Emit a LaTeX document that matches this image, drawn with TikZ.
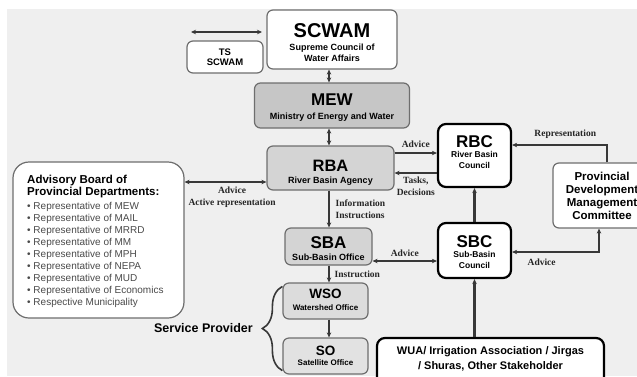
\documentclass[tikz,border=0pt]{standalone}
\usepackage{fontspec}
\setmainfont{Liberation Serif}
\setsansfont{Liberation Sans}
\usetikzlibrary{arrows.meta, positioning, decorations.pathreplacing}

\definecolor{bggray}{HTML}{EFEFEF}
\definecolor{mewgray}{HTML}{C6C6C6}
\definecolor{rbagray}{HTML}{D4D4D4}
\definecolor{wsogray}{HTML}{DCDCDC}
\definecolor{sogray}{HTML}{E2E2E2}
\definecolor{edgegray}{HTML}{6E6E6E}
\definecolor{linegray}{HTML}{383838}
\definecolor{listgray}{HTML}{4A4A4A}

\begin{document}
\begin{tikzpicture}[
  x=1pt, y=-1pt,
  >={Stealth[length=5pt, width=4.5pt]},
  unit/.style={rectangle, draw=edgegray, line width=1.2pt, rounded corners=6pt, fill=white, inner sep=0pt},
  council/.style={unit, draw=black, line width=2.2pt, rounded corners=8pt},
  ttl/.style={font=\sffamily\bfseries\fontsize{#1}{#1}\selectfont, inner sep=0pt, anchor=base},
  subttl/.style={font=\sffamily\bfseries\fontsize{#1}{10.5}\selectfont, inner sep=0pt, anchor=base, align=center},
  lbl/.style={font=\bfseries\fontsize{9.5}{12.5}\selectfont, inner sep=0pt, align=center, text=black!85},
  line/.style={draw=linegray, line width=1.2pt, ->},
  doubleline/.style={draw=linegray, line width=1.2pt, <->},
  heavy/.style={line width=2.4pt},
]
  \useasboundingbox (0,0) rectangle (637,376);
  \clip (0,0) rectangle (637,376);
  \fill[bggray] (7,9) rectangle (637,376);
  \coordinate (col) at (329,0);

  % ── Top level ─────────────────────────────
  \node[unit, minimum width=130pt, minimum height=59pt] (scwam) at (332,39.5) {};
  \node[ttl=20] (scwamT) at (332,37) {SCWAM};
  \node[subttl=9] (scwamS) at (332,61) {Supreme Council of\\Water Affairs};

  \node[unit, minimum width=76pt, minimum height=32pt, font=\sffamily\bfseries\fontsize{9.5}{10}\selectfont, align=center] (ts) at (225,57) {TS\\SCWAM};
  \coordinate (tsL) at (191,32);
  \coordinate (tsR) at (262,32);

  \node[unit, fill=mewgray, minimum width=155pt, minimum height=45pt] (mew) at (332,105.5) {};
  \node[ttl=17] (mewT) at (332,105) {MEW};
  \node[subttl=9] (mewS) at (332,119) {Ministry of Energy and Water};

  % ── River basin level ─────────────────────
  \node[unit, fill=rbagray, minimum width=127pt, minimum height=44pt] (rba) at (330.5,168) {};
  \node[ttl=16.5] (rbaT) at (330.5,171) {RBA};
  \node[subttl=9] (rbaS) at (330.5,183) {River Basin Agency};

  \node[council, minimum width=73pt, minimum height=63pt] (rbc) at (474.5,155.5) {};
  \node[ttl=17] (rbcT) at (474.5,147) {RBC};
  \node[subttl=8.5] (rbcS) at (474.5,168) {River Basin\\Council};

  \node[unit, minimum width=98pt, minimum height=65pt, font=\sffamily\bfseries\fontsize{11.5}{13}\selectfont, align=center] (pdmc) at (602,195.5) {Provincial\\Development\\Management\\Committee};

  \node[unit, rounded corners=16pt, minimum width=171pt, minimum height=156pt] (adv) at (98.5,240) {};
  \node[font=\sffamily\bfseries\fontsize{11.5}{12}\selectfont, align=left, anchor=base west, inner sep=0pt] (advT) at (27,195) {Advisory Board of\\Provincial Departments:};
  \node[font=\sffamily\fontsize{10}{12}\selectfont, text=listgray, align=left, anchor=base west, inner sep=0pt] (advL) at (27,305)
    {• Representative of MEW\\• Representative of MAIL\\• Representative of MRRD\\• Representative of MM\\• Representative of MPH\\• Representative of NEPA\\• Representative of MUD\\• Representative of Economics\\• Respective Municipality};

  % ── Sub-basin level ───────────────────────
  \node[unit, fill=rbagray, minimum width=87pt, minimum height=37pt] (sba) at (328.5,246.5) {};
  \node[ttl=17] (sbaT) at (328.5,248) {SBA};
  \node[subttl=9] (sbaS) at (328.5,260) {Sub-Basin Office};

  \node[council, minimum width=73pt, minimum height=55pt] (sbc) at (474.5,250.5) {};
  \node[ttl=17] (sbcT) at (474.5,247) {SBC};
  \node[subttl=8.5] (sbcS) at (474.5,268) {Sub-Basin\\Council};

  % ── Service providers ─────────────────────
  \node[unit, fill=wsogray, minimum width=85pt, minimum height=36pt] (wso) at (325.5,301) {};
  \node[ttl=13.5] (wsoT) at (325.5,298) {WSO};
  \node[subttl=8] (wsoS) at (325.5,310) {Watershed Office};

  \node[unit, fill=sogray, minimum width=85pt, minimum height=36pt] (so) at (325.5,356) {};
  \node[ttl=13.5] (soT) at (325.5,355) {SO};
  \node[subttl=8] (soS) at (325.5,365) {Satellite Office};

  \node[font=\sffamily\bfseries\fontsize{12.5}{12.5}\selectfont, anchor=base east, inner sep=0pt] (sp) at (253,332) {Service Provider};

  \node[council, minimum width=227pt, minimum height=48pt] (wua) at (490.5,362) {};
  \node[font=\sffamily\bfseries\fontsize{11}{15}\selectfont, align=center, anchor=base, inner sep=0pt] (wuaT) at (490.5,369) {WUA/ Irrigation Association / Jirgas\\/ Shuras, Other Stakeholder};

  % ── Connections ───────────────────────────
  \draw[doubleline] (tsL) -- (tsR);
  \draw[doubleline] (scwam.south -| col) -- (mew.north -| col);
  \draw[doubleline] (mew.south -| col) -- (rba.north -| col);
  \draw[line] (rba.south -| col) -- node[lbl, right=6pt, align=left] {Information\\Instructions} (sba.north -| col);
  \draw[line] (sba.south -| col) -- node[lbl, right=5pt] {Instruction} (wso.north -| col);
  \draw[line] (wso.south -| col) -- (so.north -| col);
  \draw[line] ([yshift=15pt]rba.east) -- node[lbl, above=5pt] {Advice} ([yshift=15pt]rba.east -| rbc.west);
  \draw[line] ([yshift=-5pt]rba.east -| rbc.west) -- node[lbl, below=3pt] {Tasks,\\Decisions} ([yshift=-5pt]rba.east);
  \draw[line] ([xshift=5pt]pdmc.north) |- node[lbl, pos=0.72, above=6pt] {Representation} ([yshift=10.5pt]rbc.east);
  \draw[doubleline] ([yshift=-1.5pt]sbc.east) -| node[lbl, pos=0.17, below=6pt] {Advice} ([xshift=-3pt]pdmc.south);
  \draw[doubleline] ([yshift=-14.5pt]sba.east) -- node[lbl, above=4pt] {Advice} ([yshift=-14.5pt]sba.east -| sbc.west);
  \draw[line, heavy] (sbc.north) -- (rbc.south);
  \draw[line, heavy] (wua.north -| sbc) -- (sbc.south);
  \draw[doubleline] ([yshift=-14pt]rba.west) -- node[lbl, pos=0.42, below=4pt] {Advice\\Active representation} ([yshift=-14pt]rba.west -| adv.east);
  \draw[linegray, line width=1.6pt, decorate, decoration={brace, amplitude=20pt}] ([yshift=4pt]so.south west) -- ([yshift=-4pt]wso.north west);

\end{tikzpicture}
\end{document}
